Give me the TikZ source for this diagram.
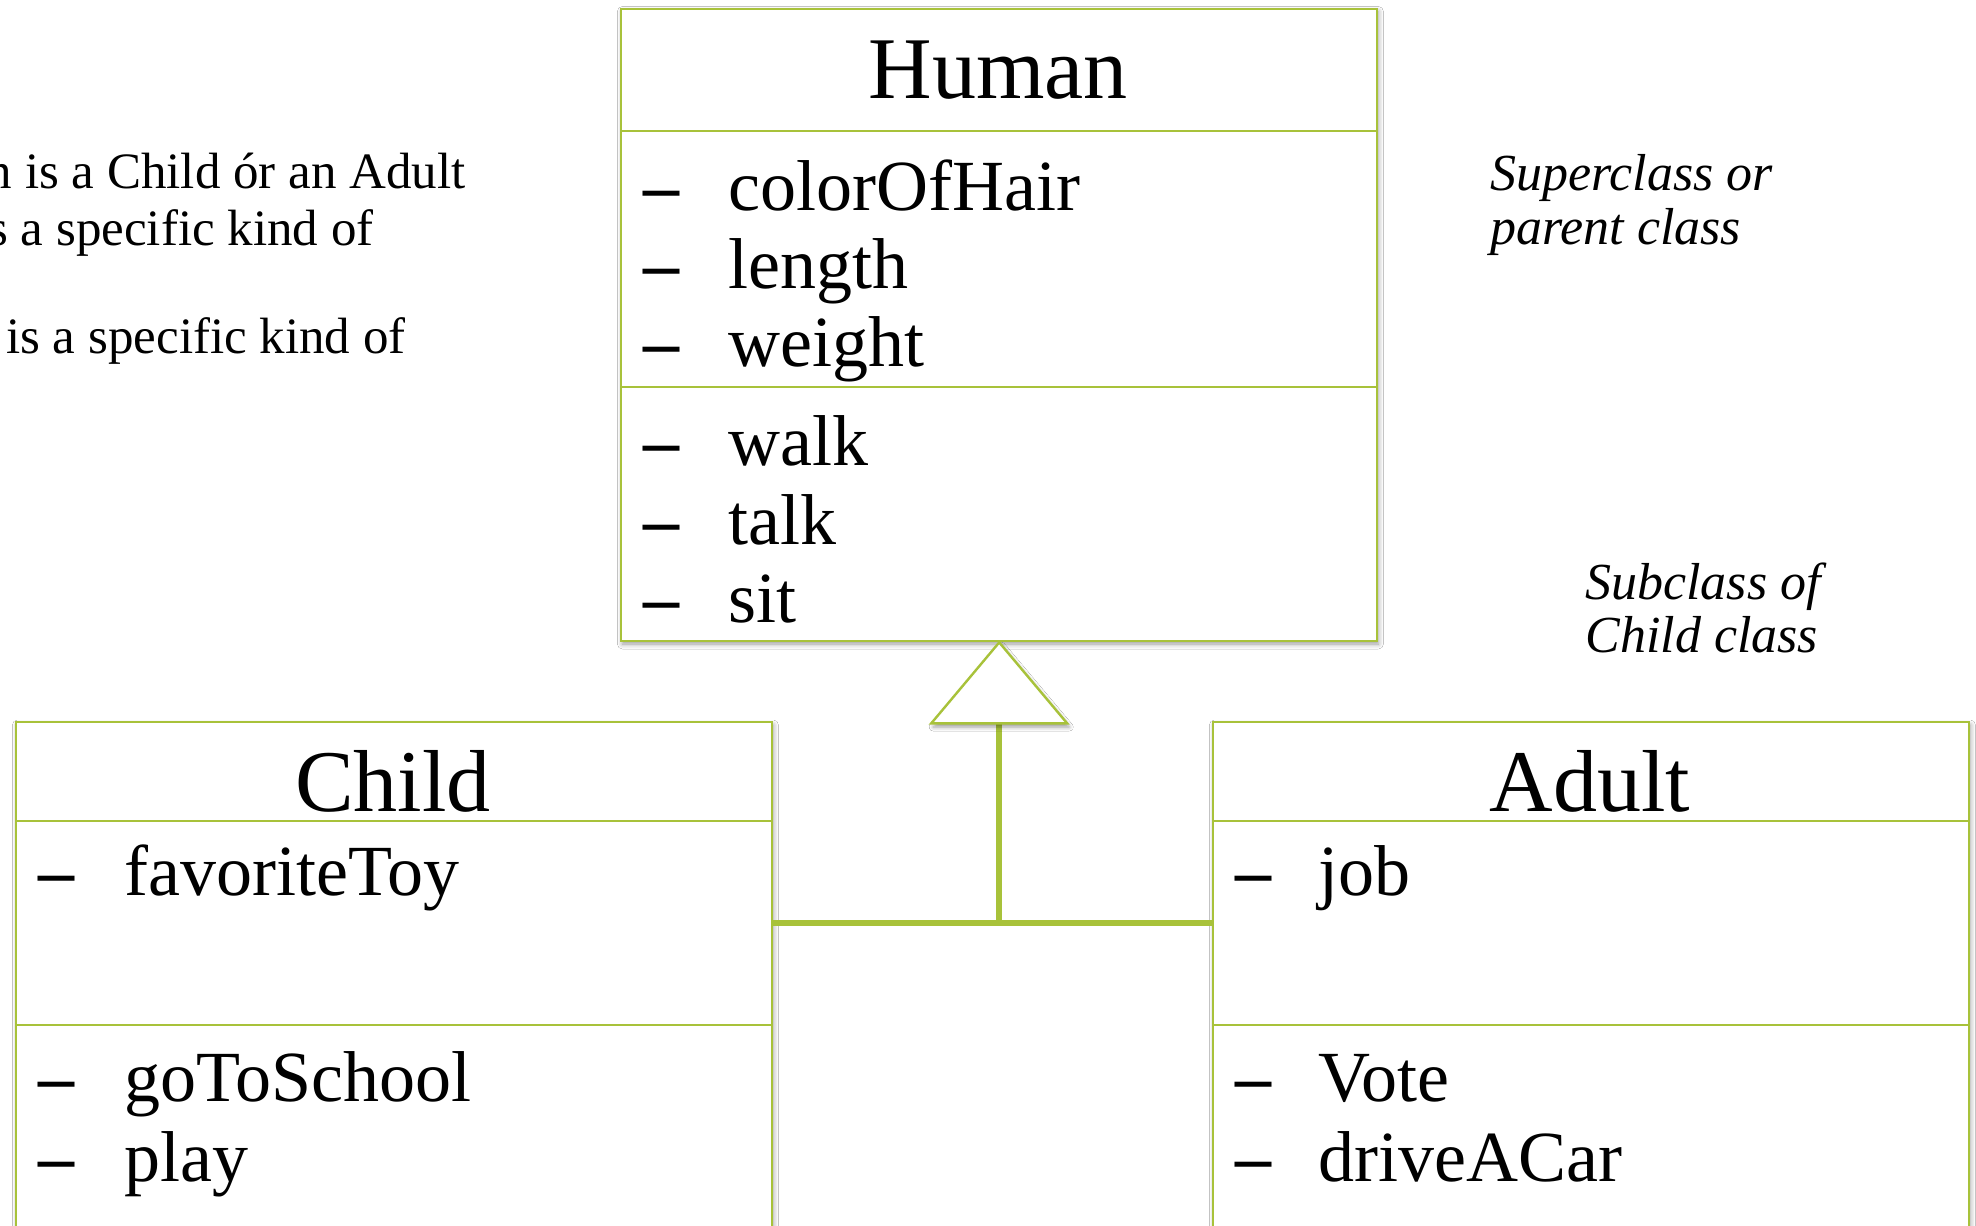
\documentclass[tikz,border=0pt]{standalone}
\usepackage{fontspec}
\setmainfont{Liberation Serif}
\usetikzlibrary{shadows.blur}
\definecolor{umlgreen}{RGB}{168,194,58}

\begin{document}
\begin{tikzpicture}[x=0.5pt,y=-0.5pt,
  part/.style={draw=umlgreen, line width=1.2pt, fill=white, rectangle,
    minimum width=378pt, inner sep=0pt, anchor=north west},
  boxshadow/.style={fill=white, blur shadow={shadow xshift=1.2pt, shadow yshift=-2pt,
    shadow blur radius=2.5pt, shadow opacity=40}},
  conn/.style={draw=umlgreen, line width=3pt},
  genhead/.style={draw=umlgreen, line width=1.2pt, fill=white, line join=miter},
  title/.style={font=\fontsize{44}{44}\selectfont, anchor=base, inner sep=0pt},
  itemtext/.style={font=\fontsize{36}{36}\selectfont, anchor=base west, inner sep=0pt},
  bullet/.style={font=\bfseries\fontsize{36}{36}\selectfont, anchor=base west, inner sep=0pt},
  side/.style={font=\fontsize{25.5}{25.5}\selectfont, anchor=base east, inner sep=0pt},
  note/.style={font=\itshape\fontsize{26}{26}\selectfont, anchor=base west, inner sep=0pt},
]
\useasboundingbox (0,0) rectangle (1976,1226);
\clip (0,0) rectangle (1976,1226);
\fill[white] (0,0) rectangle (1976,1226);

% explanatory text on the left
\node[side] (lineA) at (466,188) {n is a Child ór an Adult};
\node[side] (lineB) at (374,245) {s a specific kind of};
\node[side] (lineC) at (406,353) {is a specific kind of};

% side notes
\node[note] (superA) at (1490,190) {Superclass or};
\node[note] (superB) at (1490,244) {parent class};
\node[note] (subA) at (1585,599) {Subclass of};
\node[note] (subB) at (1585,652) {Child class};

% shadows behind the class boxes
\path[boxshadow] (620,7.5) rectangle (1376,640);
\path[boxshadow] (15,721) rectangle (771,1260);
\path[boxshadow] (1212,721) rectangle (1968,1260);

% class Human
\node[part, minimum height=61.25pt] (humanHead) at (620,7.5) {};
\node[part, minimum height=128pt] (humanAttr) at (620,130) {};
\node[part, minimum height=127pt] (humanOps) at (620,386) {};
\node[title] (humanName) at (998,98) {Human};
\foreach \y/\t [count=\i] in {210/colorOfHair,288/length,366/weight,465/walk,544/talk,622/sit}{
  \node[bullet] (humanDash\i) at (643,\y) {–};
  \node[itemtext] (humanItem\i) at (728,\y) {\t};
}

% class Child
\node[part, minimum height=49.5pt] (childHead) at (15,721) {};
\node[part, minimum height=102pt] (childAttr) at (15,820) {};
\node[part, minimum height=115pt] (childOps) at (15,1024) {};
\node[title] (childName) at (393,811) {Child};
\foreach \y/\t [count=\i] in {895/favoriteToy,1101/goToSchool,1181/play}{
  \node[bullet] (childDash\i) at (38,\y) {–};
  \node[itemtext] (childItem\i) at (124,\y) {\t};
}

% class Adult
\node[part, minimum height=49.5pt] (adultHead) at (1212,721) {};
\node[part, minimum height=102pt] (adultAttr) at (1212,820) {};
\node[part, minimum height=115pt] (adultOps) at (1212,1024) {};
\node[title] (adultName) at (1590,811) {Adult};
\foreach \y/\t [count=\i] in {895/job,1101/Vote,1181/driveACar}{
  \node[bullet] (adultDash\i) at (1235,\y) {–};
  \node[itemtext] (adultItem\i) at (1318,\y) {\t};
}

% generalization: both subclasses join and point to Human
\coordinate (junction) at (humanOps.south |- childAttr.east);
\coordinate (headBase) at ([yshift=-40.5pt]humanOps.south);
\draw[conn] (childAttr.east) -- (adultAttr.west);
\draw[conn] (junction) -- (headBase);
\path[genhead, blur shadow={shadow xshift=1pt, shadow yshift=-1.8pt,
    shadow blur radius=2pt, shadow opacity=40}]
  (humanOps.south) -- ([xshift=-34pt]headBase) -- ([xshift=34pt]headBase) -- cycle;
\end{tikzpicture}
\end{document}
